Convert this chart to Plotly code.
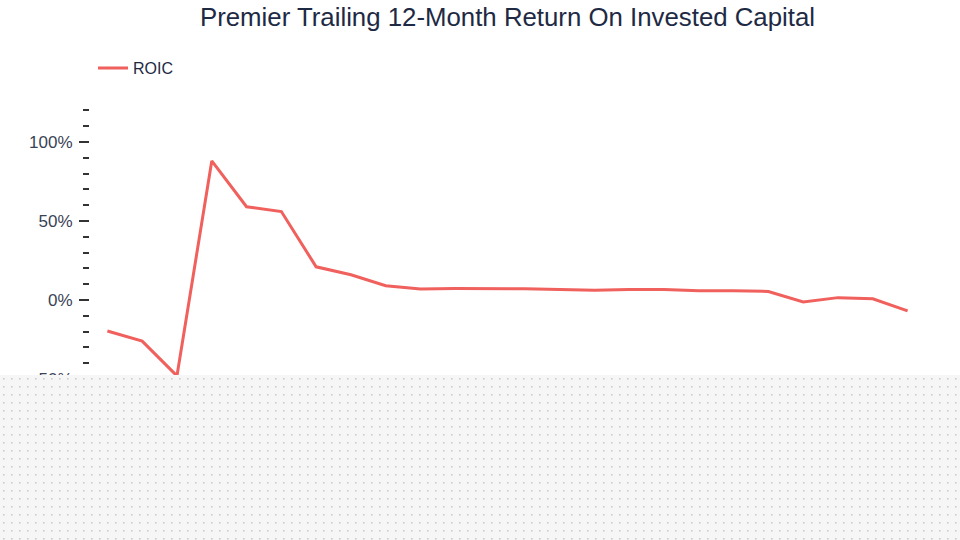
import base64
import plotly.graph_objects as go

quarters = ["Q4 2019", "Q1 2020", "Q2 2020", "Q3 2020", "Q4 2020", "Q1 2021",
            "Q2 2021", "Q3 2021", "Q4 2021", "Q1 2022", "Q2 2022", "Q3 2022",
            "Q4 2022", "Q1 2023", "Q2 2023", "Q3 2023", "Q4 2023", "Q1 2024",
            "Q2 2024", "Q3 2024", "Q4 2024", "Q1 2025", "Q2 2025", "Q3 2025"]
roic = [-19.6, -26.0, -48.0, 88.0, 59.0, 56.0, 21.0, 16.0, 9.0, 7.0, 7.3, 7.4,
        7.1, 6.6, 6.2, 6.6, 6.7, 5.9, 5.9, 5.4, -1.3, 1.5, 0.8, -6.9]

major_ticks = [-100, -50, 0, 50, 100]
major_labels = ["-100%", "-50%", "0%", "50%", "100%"]

FONT = "Liberation Sans, Arial, Helvetica, sans-serif"

fig = go.Figure()
fig.add_trace(go.Scatter(
    x=quarters, y=roic, mode="lines", name="ROIC",
    line=dict(color="#f0605d", width=3),
))

# dotted overlay panel
svg = (
    '<svg xmlns="http://www.w3.org/2000/svg" width="960" height="165">'
    '<defs><pattern id="p" width="8" height="8" patternUnits="userSpaceOnUse">'
    '<rect width="8" height="8" fill="#f6f6f6"/>'
    '<rect x="3" y="3" width="1.6" height="1.6" fill="#cbcbcb"/>'
    '</pattern></defs>'
    '<rect width="960" height="165" fill="url(#p)"/></svg>'
)
src = "data:image/svg+xml;base64," + base64.b64encode(svg.encode()).decode()

L, R, T, B = 90, 35, 100, 60
W, H = 960, 540
pw, ph = W - L - R, H - T - B
top_px = 375

fig.add_layout_image(dict(
    source=src, xref="paper", yref="paper",
    x=-L / pw, y=(H - B - top_px) / ph,
    sizex=W / pw, sizey=(H - top_px) / ph,
    xanchor="left", yanchor="top", sizing="stretch", layer="above",
))

ppu = 1.58  # pixels per percent
ymax = (300 - T) / ppu
ymin = (300 - (H - B)) / ppu

fig.update_layout(
    width=W, height=H,
    margin=dict(l=L, r=R, t=T, b=B, autoexpand=False),
    paper_bgcolor="white", plot_bgcolor="white",
    font=dict(family=FONT, color="#3a4255"),
    title=dict(text="Premier Trailing 12-Month Return On Invested Capital",
               x=0.5, xref="paper", xanchor="center", y=0.968, yanchor="middle",
               font=dict(size=25.8, color="#1e2a44", family=FONT)),
    legend=dict(orientation="h", x=0.0036, y=1.0837, xanchor="left", yanchor="middle",
                font=dict(size=16, color="#1e2a44"), bgcolor="rgba(0,0,0,0)"),
    showlegend=True,
    xaxis=dict(showgrid=False, zeroline=False, showline=False, showticklabels=False,
               ticks="", range=[-0.5, len(quarters) - 0.5], automargin=False),
    yaxis=dict(range=[ymin, ymax], showgrid=False, zeroline=False, showline=False,
               tickmode="array", tickvals=major_ticks, ticktext=major_labels,
               ticks="outside", ticklen=10, tickwidth=1.5, tickcolor="#333333",
               ticklabelstandoff=3, automargin=False,
               tickfont=dict(size=17, color="#3a4255"),
               minor=dict(dtick=10, tick0=0, ticks="outside", ticklen=6,
                          tickwidth=1.5, tickcolor="#333333", showgrid=False)),
)

fig.write_html("out.html", config={"displayModeBar": False},
               post_script="document.body.style.margin='0px';")
